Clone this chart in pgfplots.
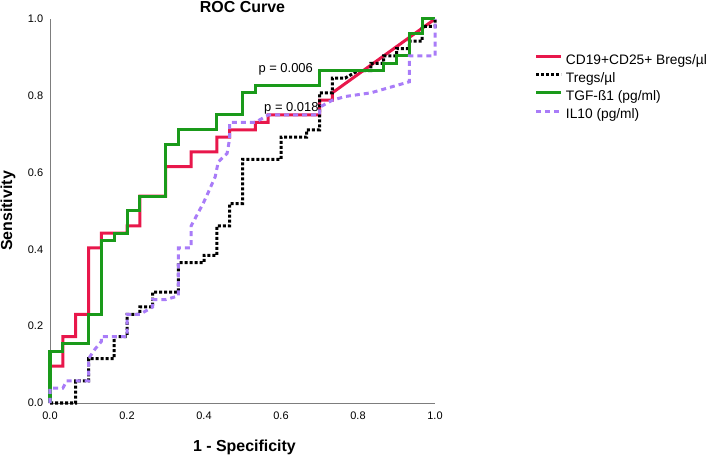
\documentclass[border=0pt]{standalone}
\usepackage{fontspec}
\setmainfont{Liberation Sans}
\usepackage{pgfplots}
\pgfplotsset{compat=1.18}
\definecolor{cRed}{HTML}{E8174B}
\definecolor{cGreen}{HTML}{1A9A1A}
\definecolor{cPurple}{HTML}{A97CF8}
\definecolor{cAxis}{RGB}{125,125,125}
\begin{document}
\begin{tikzpicture}
\useasboundingbox (0,0) rectangle (709bp,455bp);
\begin{axis}[
  at={(50bp,52bp)}, anchor=south west,
  scale only axis, width=385bp, height=384bp,
  xmin=0, xmax=1, ymin=0, ymax=1,
  axis lines*=left,
  axis line style={draw=cAxis, line width=1bp},
  clip=false,
  no markers,
  xtick={0,0.2,0.4,0.6,0.8,1}, ytick={0,0.2,0.4,0.6,0.8,1},
  major tick length=0pt,
  tick style={draw=none},
  /pgf/number format/assume math mode=true,
  /pgf/number format/fixed,
  /pgf/number format/fixed zerofill,
  /pgf/number format/precision=1,
  tick label style={font=\fontsize{11}{13}\selectfont},
  xticklabel style={inner sep=0pt, yshift=-9bp},
  yticklabel style={inner sep=0pt, xshift=-6.7bp},
  xlabel={1 - Specificity},
  xlabel style={font=\fontsize{16}{19}\bfseries\selectfont, at={(axis description cs:0.505,0)}, anchor=base, yshift=-48.5bp},
  ylabel={Sensitivity},
  ylabel style={font=\fontsize{16}{19}\bfseries\selectfont, at={(axis description cs:-0.0987,0.5)}, anchor=base},
  legend style={at={(axis description cs:1.2597,0.908)}, anchor=north west, draw=none, fill=none,
    inner sep=0pt, outer sep=0pt, row sep=5.6bp, column sep=3bp,
    font=\fontsize{13.8}{16}\selectfont,
    nodes={inner sep=0pt, text height=9.7bp, text depth=3bp}},
  legend cell align=left,
  legend image code/.code={\draw[#1] (0bp,4.5bp) -- (25bp,4.5bp);},
]
% CD19+CD25+ Bregs
\addplot[cRed, line width=3bp] coordinates {
(0,0) (0,0.0962) (0.0333,0.0962) (0.0333,0.1731) (0.0667,0.1731) (0.0667,0.2308)
(0.1,0.2308) (0.1,0.4038) (0.1333,0.4038) (0.1333,0.4423) (0.2,0.4423) (0.2,0.4615)
(0.2333,0.4615) (0.2333,0.5385) (0.3,0.5385) (0.3,0.6154) (0.3667,0.6154) (0.3667,0.6538)
(0.4333,0.6538) (0.4333,0.6923) (0.4667,0.6923) (0.4667,0.7115) (0.5333,0.7115) (0.5333,0.7308)
(0.5667,0.7308) (0.5667,0.75) (0.7,0.75) (0.7,0.7885) (0.7333,0.7885) (0.7333,0.8077) (1,1)};
% Tregs
\addplot[black, line width=3bp, dash pattern=on 3bp off 2bp] coordinates {
(0,0) (0.0667,0) (0.0667,0.0577) (0.1,0.0577) (0.1,0.1154) (0.1667,0.1154) (0.1667,0.1731)
(0.2,0.1731) (0.2,0.2308) (0.2333,0.2308) (0.2333,0.25) (0.2667,0.25) (0.2667,0.2885)
(0.3333,0.2885) (0.3333,0.3654) (0.4,0.3654) (0.4,0.3846) (0.4333,0.3846) (0.4333,0.4615)
(0.4667,0.4615) (0.4667,0.5192) (0.5,0.5192) (0.5,0.6346) (0.6,0.6346) (0.6,0.6923)
(0.6667,0.6923) (0.6667,0.7115) (0.7,0.7115) (0.7,0.8077) (0.7333,0.8077) (0.7333,0.8462)
(0.7667,0.8462) (0.8,0.8654) (0.8333,0.8654) (0.8333,0.8846) (0.8667,0.8846) (0.8667,0.9038)
(0.9,0.9038) (0.9,0.9231) (0.9333,0.9231) (0.9333,0.9423) (0.9667,0.9423) (0.9667,0.9808)
(1,0.9808) (1,1)};
% TGF-b1
\addplot[cGreen, line width=3bp] coordinates {
(0,0) (0,0.1346) (0.0333,0.1346) (0.0333,0.1538) (0.1,0.1538) (0.1,0.2308) (0.1333,0.2308)
(0.1333,0.4231) (0.1667,0.4231) (0.1667,0.4423) (0.2,0.4423) (0.2,0.5) (0.2333,0.5)
(0.2333,0.5385) (0.3,0.5385) (0.3,0.6731) (0.3333,0.6731) (0.3333,0.7115) (0.4333,0.7115)
(0.4333,0.75) (0.5,0.75) (0.5,0.8077) (0.5333,0.8077) (0.5333,0.8269) (0.7,0.8269)
(0.7,0.8654) (0.8667,0.8654) (0.8667,0.8846) (0.9,0.8846) (0.9,0.9038) (0.9333,0.9038)
(0.9333,0.9615) (0.9667,0.9615) (0.9667,1) (1,1)};
% IL10
\addplot[cPurple, line width=3bp, dash pattern=on 5bp off 4bp] coordinates {
(0,0) (0,0.0385) (0.0333,0.0385) (0.0433,0.0577) (0.1,0.0577) (0.1,0.1154) (0.1167,0.14)
(0.1333,0.16) (0.1333,0.1731) (0.2,0.1731) (0.2,0.2308) (0.2333,0.2308) (0.2667,0.25)
(0.2667,0.2692) (0.3,0.2692) (0.3333,0.2788) (0.3333,0.4038) (0.3667,0.4038) (0.3667,0.4615)
(0.398,0.52) (0.41,0.546) (0.429,0.589) (0.437,0.628) (0.46,0.65) (0.4667,0.689)
(0.4667,0.7308) (0.5333,0.7308) (0.5667,0.75) (0.7,0.75) (0.7,0.77) (0.7333,0.7885)
(0.7667,0.7981) (0.8333,0.8077) (0.8667,0.8173) (0.9,0.8269) (0.9333,0.8365)
(0.9333,0.9038) (1,0.9038) (1,1)};
\legend{CD19+CD25+ Bregs/µl, Tregs/µl, TGF-ß1 (pg/ml), IL10 (pg/ml)}
\node[anchor=base west, font=\fontsize{13}{15}\selectfont] at (axis cs:0.5325,0.86) {p = 0.006};
\node[anchor=base west, font=\fontsize{13}{15}\selectfont] at (axis cs:0.5473,0.7586) {p = 0.018};
\node[anchor=base, font=\fontsize{16}{19}\bfseries\selectfont] at (axis description cs:0.5,1.0161) {ROC Curve};
\end{axis}
\end{tikzpicture}
\end{document}
